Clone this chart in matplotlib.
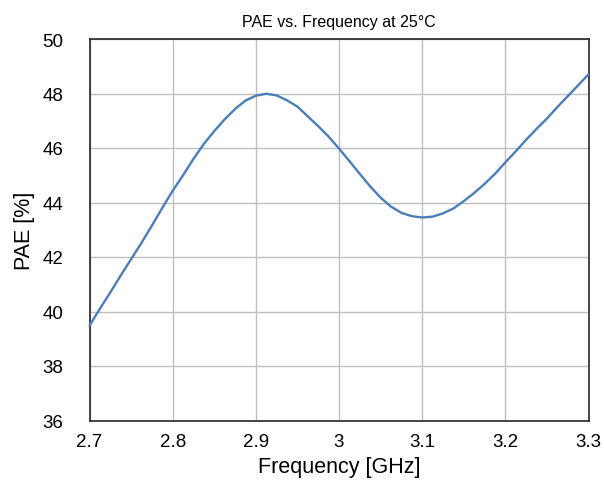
import matplotlib
matplotlib.use("Agg")
import matplotlib.pyplot as plt

freq_ghz = [2.7000, 2.7125, 2.7250, 2.7375, 2.7500, 2.7625, 2.7750, 2.7875, 2.8000, 2.8125,
            2.8250, 2.8375, 2.8500, 2.8625, 2.8750, 2.8875, 2.9000, 2.9125, 2.9250, 2.9375,
            2.9500, 2.9625, 2.9750, 2.9875, 3.0000, 3.0125, 3.0250, 3.0375, 3.0500, 3.0625,
            3.0750, 3.0875, 3.1000, 3.1125, 3.1250, 3.1375, 3.1500, 3.1625, 3.1750, 3.1875,
            3.2000, 3.2125, 3.2250, 3.2375, 3.2500, 3.2625, 3.2750, 3.2875, 3.3000]
pae_pct = [39.48, 40.10, 40.70, 41.32, 41.92, 42.52, 43.15, 43.80, 44.43, 45.00,
           45.60, 46.15, 46.62, 47.05, 47.43, 47.74, 47.92, 47.99, 47.93, 47.75,
           47.52, 47.16, 46.80, 46.42, 45.98, 45.52, 45.05, 44.59, 44.18, 43.85,
           43.62, 43.50, 43.45, 43.48, 43.60, 43.78, 44.05, 44.35, 44.68, 45.05,
           45.47, 45.88, 46.30, 46.70, 47.08, 47.50, 47.90, 48.30, 48.70]

x_ticks = [2.7, 2.8, 2.9, 3.0, 3.1, 3.2, 3.3]
x_tick_labels = ["2.7", "2.8", "2.9", "3", "3.1", "3.2", "3.3"]
y_ticks = [36, 38, 40, 42, 44, 46, 48, 50]

plt.rcParams['font.family'] = ['Liberation Sans', 'DejaVu Sans']

fig = plt.figure(figsize=(6.04, 4.89), dpi=100)
ax = fig.add_axes([89.5/604, 1-421.5/489, (588.5-89.5)/604, (421.5-40)/489])

ax.plot(freq_ghz, pae_pct, color='#4a7ebb', linewidth=1.7,
        solid_joinstyle='round', solid_capstyle='round', zorder=3, clip_on=False)

ax.set_xlim(2.7, 3.3)
ax.set_ylim(36, 50)
ax.set_xticks(x_ticks)
ax.set_xticklabels(x_tick_labels)
ax.set_yticks(y_ticks)
ax.grid(True, color='#bfbfbf', linewidth=1.0)
ax.set_axisbelow(True)
for s in ax.spines.values():
    s.set_color('#262626')
    s.set_linewidth(1.2)
ax.tick_params(axis='both', length=0, labelsize=13.5, colors='black')
ax.tick_params(axis='y', pad=19)
ax.tick_params(axis='x', pad=9)

ax.set_title("PAE vs. Frequency at 25°C", fontsize=11.5, pad=9)
ax.set_xlabel("Frequency [GHz]", fontsize=15.5, labelpad=4)
ax.set_ylabel("PAE [%]", fontsize=15.5, labelpad=5)

fig.savefig("out.png", dpi=100)
